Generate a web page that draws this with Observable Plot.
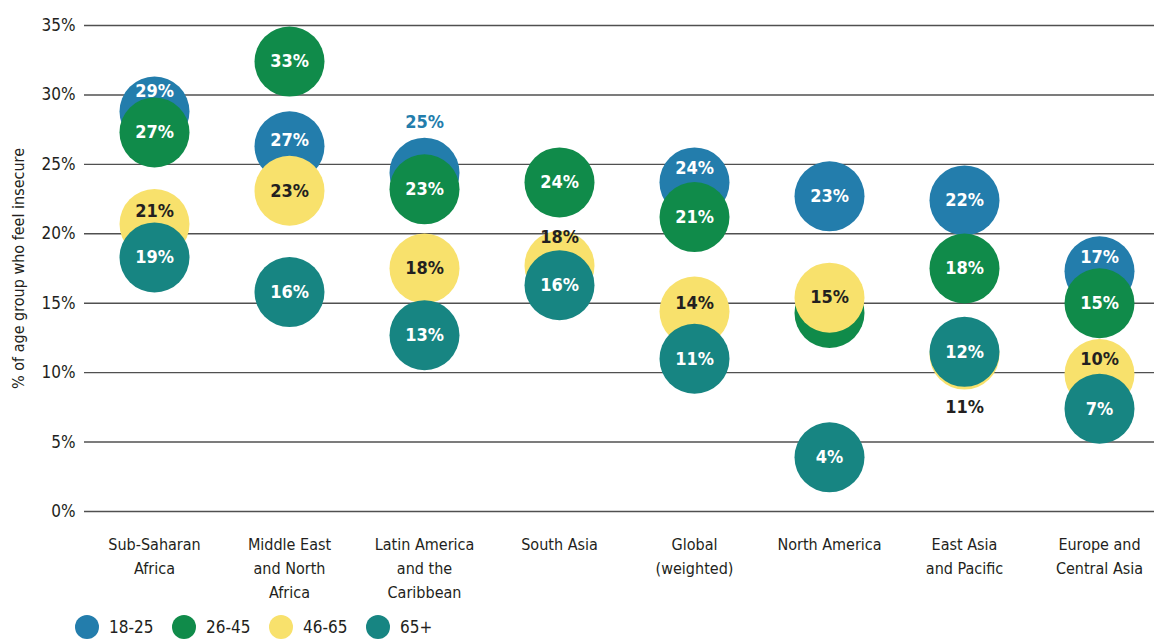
<!DOCTYPE html>
<html>
<head>
<meta charset="utf-8">
<script src="https://cdn.jsdelivr.net/npm/d3@7"></script>
<script src="https://cdn.jsdelivr.net/npm/@observablehq/plot@0.6"></script>
<style>
  html, body { margin: 0; padding: 0; background: #fff; }
  body { width: 1154px; height: 641px; overflow: hidden; font-family: "DejaVu Sans Condensed", "Liberation Sans Narrow", "Roboto", sans-serif; font-stretch: condensed; color: #231f20; }
  #chart svg { display: block; }
  #legend { display: flex; align-items: center; height: 24px; margin-top: 5px; margin-left: 75px; font-size: 17px; }
  #legend .item { display: flex; align-items: center; width: 97px; }
  #legend .sw { width: 24px; height: 24px; border-radius: 50%; margin-right: 10px; }
</style>
</head>
<body>
<div id="chart"></div>
<div id="legend"></div>
<script>
const categories = ["Sub-Saharan Africa", "Middle East and North Africa", "Latin America and the Caribbean", "South Asia", "Global (weighted)", "North America", "East Asia and Pacific", "Europe and Central Asia"];
const categoryLabels = ["Sub-Saharan\nAfrica", "Middle East\nand North\nAfrica", "Latin America\nand the\nCaribbean", "South Asia", "Global\n(weighted)", "North America", "East Asia\nand Pacific", "Europe and\nCentral Asia"];
const ageGroups = ["18-25", "26-45", "46-65", "65+"];
const groupColors = ["#237dac", "#108b4a", "#f8e16c", "#178582"];

// circle positions
const values18_25 = [28.8, 26.3, 24.4, null, 23.7, 22.7, 22.4, 17.3];
const values26_45 = [27.3, 32.4, 23.2, 23.7, 21.2, 14.3, 17.5, 15.0];
const values46_65 = [20.7, 23.1, 17.5, 17.7, 14.4, 15.4, 11.3, 9.9];
const values65plus = [18.3, 15.8, 12.7, 16.3, 11.0, 3.9, 11.5, 7.4];

// printed labels (null = hidden behind another circle in the original)
const labels18_25 = [29, 27, 25, null, 24, 23, 22, 17];
const labels26_45 = [27, 33, 23, 24, 21, null, 18, 15];
const labels46_65 = [21, 23, 18, 18, 14, 15, 11, 10];
const labels65plus = [19, 16, 13, 16, 11, 4, 12, 7];

const yTicks = [0, 5, 10, 15, 20, 25, 30, 35];
const yLabel = "% of age group who feel insecure";

// label nudges (px) for labels that are not centred on their circle
const labelNudge = {
  "Sub-Saharan Africa|18-25": -20,
  "Sub-Saharan Africa|46-65": -13,
  "Middle East and North Africa|18-25": -6,
  "Latin America and the Caribbean|18-25": -50,
  "South Asia|46-65": -28,
  "Global (weighted)|18-25": -14,
  "Global (weighted)|46-65": -8,
  "East Asia and Pacific|46-65": 53,
  "Europe and Central Asia|18-25": -14,
  "Europe and Central Asia|46-65": -15
};
const outsideLabels = {"Latin America and the Caribbean|18-25": "#237dac"};

const valueSets = [values18_25, values26_45, values46_65, values65plus];
const labelSets = [labels18_25, labels26_45, labels46_65, labels65plus];

const font = '"DejaVu Sans Condensed", "Liberation Sans Narrow", "Roboto", sans-serif';
const dark = "#231f20";

const marks = [
  Plot.ruleY(yTicks, {stroke: "#505050", strokeWidth: 1.4}),
  Plot.axisY({ticks: yTicks, tickFormat: d => d + "%", tickSize: 0, tickPadding: 9, fontSize: 17, label: null}),
  Plot.axisX({tickFormat: d => categoryLabels[categories.indexOf(d)], tickSize: 0, tickPadding: 21, fontSize: 16, lineHeight: 1.5, label: null}),
  Plot.text([yLabel], {text: d => d, frameAnchor: "left", textAnchor: "middle", dx: -66, rotate: -90, fontSize: 16, fill: dark})
];

ageGroups.forEach((g, gi) => {
  const rows = [];
  categories.forEach((c, ci) => {
    const v = valueSets[gi][ci];
    if (v == null) return;
    rows.push({category: c, group: g, value: v, label: labelSets[gi][ci]});
  });
  marks.push(Plot.dot(rows, {x: "category", y: "value", r: 35, fill: groupColors[gi], stroke: "none"}));
  rows.forEach(d => {
    if (d.label == null) return;
    const key = d.category + "|" + g;
    const fill = outsideLabels[key] || (g === "46-65" ? dark : "#ffffff");
    marks.push(Plot.text([d], {
      x: "category", y: "value", text: d => d.label + "%",
      dy: labelNudge[key] || 0, fill, fontSize: 18, fontWeight: "bold"
    }));
  });
});

const chart = Plot.plot({
  width: 1154,
  height: 610,
  marginLeft: 84,
  marginRight: 0,
  marginTop: 25,
  marginBottom: 99,
  style: {fontFamily: font, color: dark, background: "#fff", overflow: "visible"},
  x: {type: "point", domain: categories, range: [152, 1100], padding: 0},
  y: {domain: [0, 35], range: [511, 25]},
  marks
});
document.getElementById("chart").appendChild(chart);

const legend = document.getElementById("legend");
ageGroups.forEach((g, i) => {
  const item = document.createElement("div");
  item.className = "item";
  const sw = document.createElement("span");
  sw.className = "sw";
  sw.style.background = groupColors[i];
  const t = document.createElement("span");
  t.textContent = g;
  item.appendChild(sw);
  item.appendChild(t);
  legend.appendChild(item);
});
</script>
</body>
</html>
